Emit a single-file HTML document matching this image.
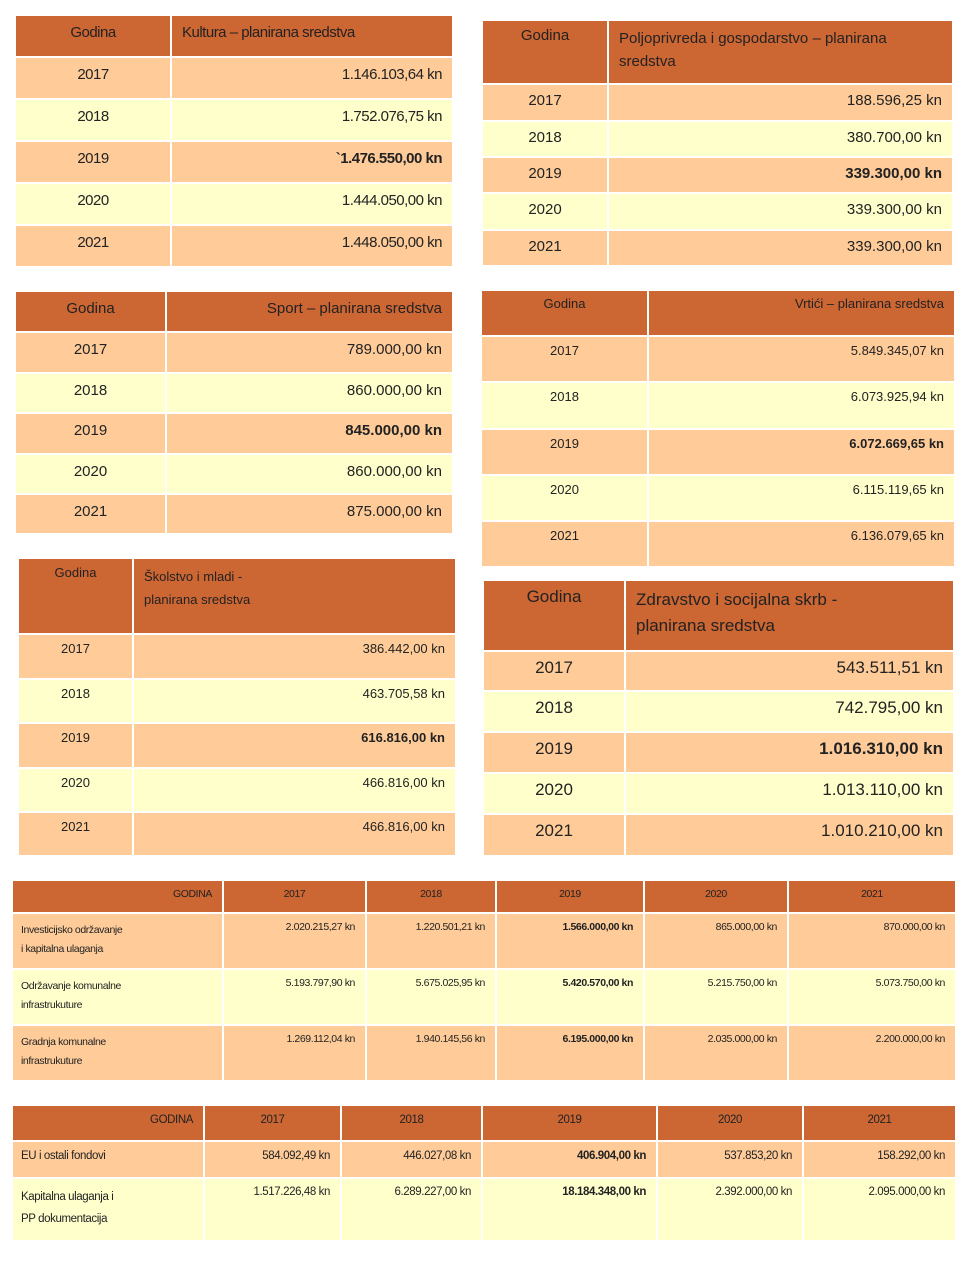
<!DOCTYPE html>
<html><head><meta charset="utf-8"><style>
body{margin:0;width:968px;height:1265px;background:#fff;position:relative;font-family:"Liberation Sans",sans-serif;color:#222;overflow:hidden}
.t{position:absolute;border-collapse:collapse;table-layout:fixed}
.t td{border:2px solid #fff;padding:0 10px;vertical-align:top;white-space:nowrap;overflow:hidden}
.h td{background:#CC6633}
.p td{background:#FFCC99}
.y td{background:#FFFFCC}
.c{text-align:center}.r{text-align:right}
b{font-weight:bold}
</style></head><body>

<table class="t" style="left:14px;top:14px;width:440px;font-size:15px;letter-spacing:-0.5px">
<colgroup><col style="width:156px"><col></colgroup>
<tr class="h" style="height:42px"><td class="c" style="padding-top:8px">Godina</td><td style="padding-top:8px">Kultura – planirana sredstva</td></tr>
<tr class="p" style="height:42px"><td class="c" style="padding-top:8px">2017</td><td class="r" style="padding-top:8px">1.146.103,64 kn</td></tr>
<tr class="y" style="height:42px"><td class="c" style="padding-top:8px">2018</td><td class="r" style="padding-top:8px">1.752.076,75 kn</td></tr>
<tr class="p" style="height:42px"><td class="c" style="padding-top:8px">2019</td><td class="r" style="padding-top:8px"><b>`1.476.550,00 kn</b></td></tr>
<tr class="y" style="height:42px"><td class="c" style="padding-top:8px">2020</td><td class="r" style="padding-top:8px">1.444.050,00 kn</td></tr>
<tr class="p" style="height:42px"><td class="c" style="padding-top:8px">2021</td><td class="r" style="padding-top:8px">1.448.050,00 kn</td></tr>
</table>

<table class="t" style="left:481px;top:19px;width:473px;font-size:15px">
<colgroup><col style="width:126px"><col></colgroup>
<tr class="h" style="height:64px"><td class="c" style="padding-top:6px">Godina</td><td style="padding-top:6px;white-space:normal;line-height:23px">Poljoprivreda i gospodarstvo – planirana sredstva</td></tr>
<tr class="p" style="height:37px"><td class="c" style="padding-top:7px">2017</td><td class="r" style="padding-top:7px">188.596,25 kn</td></tr>
<tr class="y" style="height:36px"><td class="c" style="padding-top:7px">2018</td><td class="r" style="padding-top:7px">380.700,00 kn</td></tr>
<tr class="p" style="height:36px"><td class="c" style="padding-top:7px">2019</td><td class="r" style="padding-top:7px"><b>339.300,00 kn</b></td></tr>
<tr class="y" style="height:37px"><td class="c" style="padding-top:7px">2020</td><td class="r" style="padding-top:7px">339.300,00 kn</td></tr>
<tr class="p" style="height:36px"><td class="c" style="padding-top:7px">2021</td><td class="r" style="padding-top:7px">339.300,00 kn</td></tr>
</table>

<table class="t" style="left:14px;top:290px;width:440px;font-size:15px">
<colgroup><col style="width:151px"><col></colgroup>
<tr class="h" style="height:41px"><td class="c" style="padding-top:8px">Godina</td><td class="r" style="padding-top:8px">Sport – planirana sredstva</td></tr>
<tr class="p" style="height:41px"><td class="c" style="padding-top:8px">2017</td><td class="r" style="padding-top:8px">789.000,00 kn</td></tr>
<tr class="y" style="height:40px"><td class="c" style="padding-top:8px">2018</td><td class="r" style="padding-top:8px">860.000,00 kn</td></tr>
<tr class="p" style="height:41px"><td class="c" style="padding-top:8px">2019</td><td class="r" style="padding-top:8px"><b>845.000,00 kn</b></td></tr>
<tr class="y" style="height:40px"><td class="c" style="padding-top:8px">2020</td><td class="r" style="padding-top:8px">860.000,00 kn</td></tr>
<tr class="p" style="height:40px"><td class="c" style="padding-top:8px">2021</td><td class="r" style="padding-top:8px">875.000,00 kn</td></tr>
</table>

<table class="t" style="left:480px;top:289px;width:476px;font-size:13px">
<colgroup><col style="width:167px"><col></colgroup>
<tr class="h" style="height:46px"><td class="c" style="padding-top:5px">Godina</td><td class="r" style="padding-top:5px">Vrtići – planirana sredstva</td></tr>
<tr class="p" style="height:46px"><td class="c" style="padding-top:6px">2017</td><td class="r" style="padding-top:6px">5.849.345,07 kn</td></tr>
<tr class="y" style="height:47px"><td class="c" style="padding-top:6px">2018</td><td class="r" style="padding-top:6px">6.073.925,94 kn</td></tr>
<tr class="p" style="height:46px"><td class="c" style="padding-top:6px">2019</td><td class="r" style="padding-top:6px"><b>6.072.669,65 kn</b></td></tr>
<tr class="y" style="height:46px"><td class="c" style="padding-top:6px">2020</td><td class="r" style="padding-top:6px">6.115.119,65 kn</td></tr>
<tr class="p" style="height:46px"><td class="c" style="padding-top:6px">2021</td><td class="r" style="padding-top:6px">6.136.079,65 kn</td></tr>
</table>

<table class="t" style="left:17px;top:557px;width:440px;font-size:13px">
<colgroup><col style="width:115px"><col></colgroup>
<tr class="h" style="height:76px"><td class="c" style="padding-top:6px">Godina</td><td style="padding-top:6px;white-space:normal;line-height:23px">Školstvo i mladi -<br>planirana sredstva</td></tr>
<tr class="p" style="height:45px"><td class="c" style="padding-top:6px">2017</td><td class="r" style="padding-top:6px">386.442,00 kn</td></tr>
<tr class="y" style="height:44px"><td class="c" style="padding-top:6px">2018</td><td class="r" style="padding-top:6px">463.705,58 kn</td></tr>
<tr class="p" style="height:45px"><td class="c" style="padding-top:6px">2019</td><td class="r" style="padding-top:6px"><b>616.816,00 kn</b></td></tr>
<tr class="y" style="height:44px"><td class="c" style="padding-top:6px">2020</td><td class="r" style="padding-top:6px">466.816,00 kn</td></tr>
<tr class="p" style="height:44px"><td class="c" style="padding-top:6px">2021</td><td class="r" style="padding-top:6px">466.816,00 kn</td></tr>
</table>

<table class="t" style="left:482px;top:579px;width:473px;font-size:17px">
<colgroup><col style="width:142px"><col></colgroup>
<tr class="h" style="height:71px"><td class="c" style="padding-top:6px">Godina</td><td style="padding-top:6px;white-space:normal;line-height:26px">Zdravstvo i socijalna skrb -<br>planirana sredstva</td></tr>
<tr class="p" style="height:40px"><td class="c" style="padding-top:6px">2017</td><td class="r" style="padding-top:6px">543.511,51 kn</td></tr>
<tr class="y" style="height:41px"><td class="c" style="padding-top:6px">2018</td><td class="r" style="padding-top:6px">742.795,00 kn</td></tr>
<tr class="p" style="height:41px"><td class="c" style="padding-top:6px">2019</td><td class="r" style="padding-top:6px"><b>1.016.310,00 kn</b></td></tr>
<tr class="y" style="height:41px"><td class="c" style="padding-top:6px">2020</td><td class="r" style="padding-top:6px">1.013.110,00 kn</td></tr>
<tr class="p" style="height:42px"><td class="c" style="padding-top:6px">2021</td><td class="r" style="padding-top:6px">1.010.210,00 kn</td></tr>
</table>

<table class="t" style="left:11px;top:879px;width:946px;font-size:10.5px;letter-spacing:-0.4px">
<colgroup><col style="width:211px"><col style="width:143px"><col style="width:130px"><col style="width:148px"><col style="width:144px"><col></colgroup>
<tr class="h" style="height:33px"><td class="r" style="padding-top:7px">GODINA</td><td class="c" style="padding-top:7px">2017</td><td class="c" style="padding-top:7px">2018</td><td class="c" style="padding-top:7px">2019</td><td class="c" style="padding-top:7px">2020</td><td class="c" style="padding-top:7px">2021</td></tr>
<tr class="p" style="height:56px"><td style="padding-top:7px;line-height:19px;padding-left:8px">Investicijsko održavanje<br>i kapitalna ulaganja</td><td class="r" style="padding-top:7px">2.020.215,27 kn</td><td class="r" style="padding-top:7px">1.220.501,21 kn</td><td class="r" style="padding-top:7px"><b>1.566.000,00 kn</b></td><td class="r" style="padding-top:7px">865.000,00 kn</td><td class="r" style="padding-top:7px">870.000,00 kn</td></tr>
<tr class="y" style="height:56px"><td style="padding-top:7px;line-height:19px;padding-left:8px">Održavanje komunalne<br>infrastrukuture</td><td class="r" style="padding-top:7px">5.193.797,90 kn</td><td class="r" style="padding-top:7px">5.675.025,95 kn</td><td class="r" style="padding-top:7px"><b>5.420.570,00 kn</b></td><td class="r" style="padding-top:7px">5.215.750,00 kn</td><td class="r" style="padding-top:7px">5.073.750,00 kn</td></tr>
<tr class="p" style="height:56px"><td style="padding-top:7px;line-height:19px;padding-left:8px">Gradnja komunalne<br>infrastrukuture</td><td class="r" style="padding-top:7px">1.269.112,04 kn</td><td class="r" style="padding-top:7px">1.940.145,56 kn</td><td class="r" style="padding-top:7px"><b>6.195.000,00 kn</b></td><td class="r" style="padding-top:7px">2.035.000,00 kn</td><td class="r" style="padding-top:7px">2.200.000,00 kn</td></tr>
</table>

<table class="t" style="left:11px;top:1104px;width:946px;font-size:11.5px;letter-spacing:-0.4px">
<colgroup><col style="width:192px"><col style="width:137px"><col style="width:141px"><col style="width:175px"><col style="width:146px"><col></colgroup>
<tr class="h" style="height:36px"><td class="r" style="padding-top:8px">GODINA</td><td class="c" style="padding-top:8px">2017</td><td class="c" style="padding-top:8px">2018</td><td class="c" style="padding-top:8px">2019</td><td class="c" style="padding-top:8px">2020</td><td class="c" style="padding-top:8px">2021</td></tr>
<tr class="p" style="height:37px"><td style="padding-top:8px;padding-left:8px">EU i ostali fondovi</td><td class="r" style="padding-top:8px">584.092,49 kn</td><td class="r" style="padding-top:8px">446.027,08 kn</td><td class="r" style="padding-top:8px"><b>406.904,00 kn</b></td><td class="r" style="padding-top:8px">537.853,20 kn</td><td class="r" style="padding-top:8px">158.292,00 kn</td></tr>
<tr class="y" style="height:63px"><td style="padding-top:7px;line-height:22px;padding-left:8px">Kapitalna ulaganja i<br>PP dokumentacija</td><td class="r" style="padding-top:7px">1.517.226,48 kn</td><td class="r" style="padding-top:7px">6.289.227,00 kn</td><td class="r" style="padding-top:7px"><b>18.184.348,00 kn</b></td><td class="r" style="padding-top:7px">2.392.000,00 kn</td><td class="r" style="padding-top:7px">2.095.000,00 kn</td></tr>
</table>

</body></html>
